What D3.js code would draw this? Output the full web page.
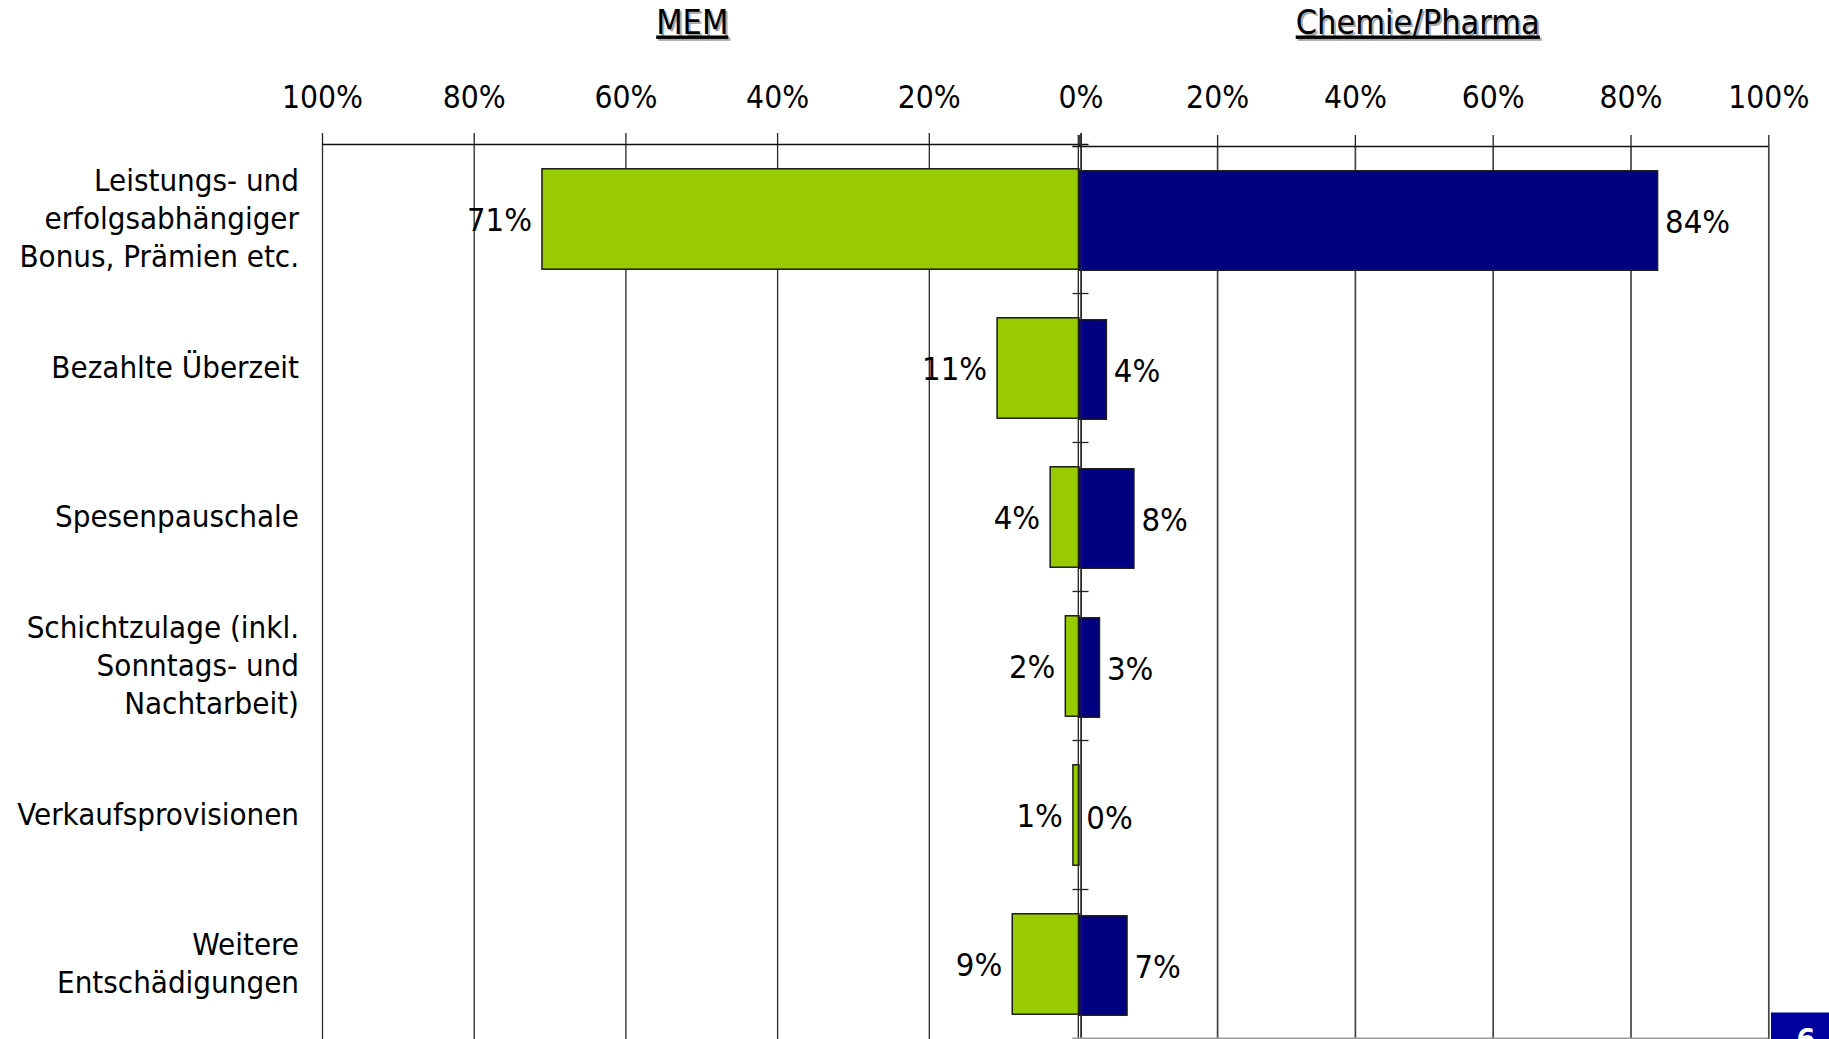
<!DOCTYPE html>
<html>
<head>
<meta charset="utf-8">
<script src="https://cdn.jsdelivr.net/npm/d3@7"></script>
<style>
  body { margin: 0; background: #fff; }
  svg { display: block; }
  text { font-family: "DejaVu Sans Condensed", "DejaVu Sans", sans-serif; fill: #000; }
</style>
</head>
<body>
<svg width="1829" height="1039"></svg>
<script>
/* data */
var categories = [
  ["Leistungs- und", "erfolgsabhängiger", "Bonus, Prämien etc."],
  ["Bezahlte Überzeit"],
  ["Spesenpauschale"],
  ["Schichtzulage (inkl.", "Sonntags- und", "Nachtarbeit)"],
  ["Verkaufsprovisionen"],
  ["Weitere", "Entschädigungen"]
];
var memValues  = [0.71, 0.11, 0.04, 0.02, 0.01, 0.09];
var chemValues = [0.84, 0.04, 0.08, 0.03, 0.00, 0.07];
var tickValues = [0, 0.2, 0.4, 0.6, 0.8, 1];
var panelTitles = ["MEM", "Chemie/Pharma"];
var slideNumber = "6";

var keys = categories.map(function(c){ return c.join(" "); });
var fmt = d3.format(".0%");

var svg = d3.select("svg");

// two charts sitting back to back, each with its own scale
var xL = d3.scaleLinear().domain([0, 1]).range([1080.5, 322]);
var xR = d3.scaleLinear().domain([0, 1]).range([1079.3, 1768.3]);
var yL = d3.scaleBand().domain(keys).range([144.5, 1038.5]).paddingInner(0.326).paddingOuter(0.163);
var yR = d3.scaleBand().domain(keys).range([146.5, 1040.5]).paddingInner(0.326).paddingOuter(0.163);

var bottom = 1039;

/* gridlines */
svg.append("g")
  .attr("transform", "translate(0,144)")
  .call(d3.axisTop(xL).tickValues(tickValues).tickSize(-(bottom - 144)).tickFormat(""))
  .call(function(g){
    g.select(".domain").remove();
    g.selectAll("line").attr("stroke", "#2a2a2a").attr("stroke-width", 1.3);
  });
svg.append("g")
  .attr("transform", "translate(0,146)")
  .call(d3.axisTop(xR).tickValues(tickValues.slice(1)).tickSize(-(bottom - 146)).tickFormat(""))
  .call(function(g){
    g.select(".domain").remove();
    g.selectAll("line").attr("stroke", "#444").attr("stroke-width", 1.7);
  });

/* top axes with labels */
var axL = svg.append("g")
  .attr("transform", "translate(0,144)")
  .call(d3.axisTop(xL).tickValues(tickValues).tickSize(11).tickSizeOuter(0).tickPadding(25).tickFormat(fmt));
var axR = svg.append("g")
  .attr("transform", "translate(0,146)")
  .call(d3.axisTop(xR).tickValues(tickValues).tickSize(11).tickSizeOuter(0).tickPadding(27)
    .tickFormat(function(d){ return d === 0 ? "" : fmt(d); }));
[axL, axR].forEach(function(ax){
  ax.selectAll("text").style("font-size", "31.5px").attr("fill", "#000")
    .style("font-family", "'DejaVu Sans Condensed','DejaVu Sans',sans-serif");
  ax.selectAll("line").attr("stroke", "#222").attr("stroke-width", 1.3);
  ax.select(".domain").attr("stroke", "#111").attr("stroke-width", 1.6);
});
axL.select(".domain").attr("d", "M" + xL(1) + ",0.5H" + (xL(0) + 8));
axR.select(".domain").attr("d", "M" + (xR(0) - 7) + ",0.5H" + xR(1));

/* bars */
svg.append("g").selectAll("rect")
  .data(memValues)
  .join("rect")
  .attr("x", function(d){ return xL(d); })
  .attr("y", function(d, i){ return yL(keys[i]); })
  .attr("width", function(d){ return xL(0) - xL(d) - 1.5; })
  .attr("height", yL.bandwidth())
  .attr("fill", "#99cc00")
  .attr("stroke", "#1a1a1a")
  .attr("stroke-width", 1.5);

svg.append("g").selectAll("rect")
  .data(chemValues)
  .join("rect")
  .attr("x", xR(0) - 0.5)
  .attr("y", function(d, i){ return yR(keys[i]); })
  .attr("width", function(d){ return xR(d) - xR(0); })
  .attr("height", yR.bandwidth() - 1)
  .attr("fill", "#000080")
  .attr("stroke", "#1a1a1a")
  .attr("stroke-width", 1.5);

/* centre axes: a double vertical line with small ticks between categories */
svg.append("line")
  .attr("x1", xL(0) + 0.8).attr("x2", xL(0) + 0.8)
  .attr("y1", 133).attr("y2", bottom)
  .attr("stroke", "#222").attr("stroke-width", 1.3);
svg.append("line")
  .attr("x1", xR(0) - 1).attr("x2", xR(0) - 1)
  .attr("y1", 135).attr("y2", bottom)
  .attr("stroke", "#222").attr("stroke-width", 1.3);

var step = yL.step();
svg.append("g").selectAll("line")
  .data(keys.slice(1))
  .join("line")
  .attr("x1", xL(0) - 8).attr("x2", xL(0) + 8)
  .attr("y1", function(k){ return yL(k) - step * yL.paddingInner() / 2; })
  .attr("y2", function(k){ return yL(k) - step * yL.paddingInner() / 2; })
  .attr("stroke", "#222").attr("stroke-width", 1.3);

// bottom axis of the right chart is just visible at the edge
svg.append("line")
  .attr("x1", xR(0) - 7).attr("x2", xR(1))
  .attr("y1", 1038.3).attr("y2", 1038.3)
  .attr("stroke", "#999").attr("stroke-width", 1.5);

/* value labels */
svg.append("g").selectAll("text")
  .data(memValues)
  .join("text")
  .attr("x", function(d){ return xL(d) - 10; })
  .attr("y", function(d, i){ return yL(keys[i]) + yL.bandwidth() / 2 + 12; })
  .attr("text-anchor", "end")
  .style("font-size", "32.5px")
  .text(fmt);

svg.append("g").selectAll("text")
  .data(chemValues)
  .join("text")
  .attr("x", function(d){ return xR(d) + 7; })
  .attr("y", function(d, i){ return yR(keys[i]) + yR.bandwidth() / 2 + 12; })
  .attr("text-anchor", "start")
  .style("font-size", "32.5px")
  .text(fmt);

/* category labels */
var lineH = 38.3;
var cat = svg.append("g").selectAll("text")
  .data(categories)
  .join("text")
  .attr("text-anchor", "end")
  .style("font-size", "31px")
  .attr("y", function(c, i){ return yL(keys[i]) + yL.bandwidth() / 2 - (c.length - 1) / 2 * lineH + 10; });
cat.selectAll("tspan")
  .data(function(c){ return c; })
  .join("tspan")
  .attr("x", 299)
  .attr("dy", function(d, j){ return j === 0 ? 0 : lineH; })
  .text(function(d){ return d; });

/* panel titles, underlined with a grey shadow */
var titleX = [(xL(0) + xL(1)) / 2 - 9, (xR(0) + xR(1)) / 2 - 6];
panelTitles.forEach(function(t, i){
  svg.append("text")
    .attr("x", titleX[i] + 2).attr("y", 35.5)
    .attr("text-anchor", "middle")
    .style("font-size", "34px")
    .style("text-decoration", "underline")
    .style("fill", "#aaa")
    .text(t);
  svg.append("text")
    .attr("x", titleX[i]).attr("y", 33.5)
    .attr("text-anchor", "middle")
    .style("font-size", "34px")
    .style("text-decoration", "underline")
    .text(t);
});

/* slide number box in the corner */
svg.append("rect")
  .attr("x", 1771).attr("y", 1012.5)
  .attr("width", 70).attr("height", 40)
  .attr("fill", "#0000a0");
svg.append("text")
  .attr("x", 1806).attr("y", 1050)
  .attr("text-anchor", "middle")
  .style("font-size", "30px")
  .style("font-weight", "bold")
  .style("fill", "#fff")
  .text(slideNumber);
</script>
</body>
</html>
